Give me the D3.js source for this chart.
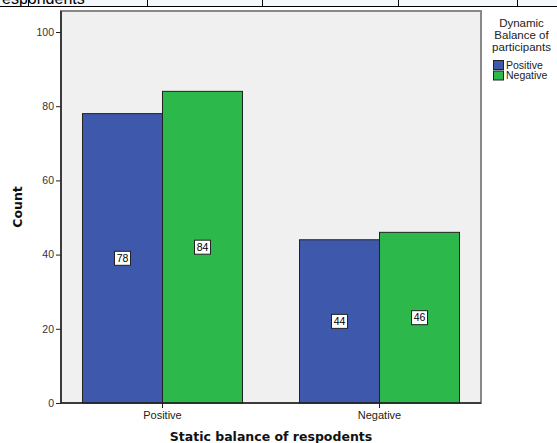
<!DOCTYPE html>
<html><head><meta charset="utf-8">
<script src="https://cdn.jsdelivr.net/npm/d3@7"></script>
<style>body{margin:0;background:#fff}svg{display:block}</style>
</head><body><svg id="c" width="557" height="443"></svg>
<script>
const categories = ["Positive", "Negative"];
const seriesNames = ["Positive", "Negative"];
const positiveCounts = [78, 44];
const negativeCounts = [84, 46];
const yTicks = [0, 20, 40, 60, 80, 100];
const colors = ["#3E58AC", "#2DB84B"];

const svg = d3.select("#c");
const m = {l: 61, r: 481, t: 11, b: 403};
const FONT = "Arial, 'Liberation Sans', sans-serif";
const BOLD = "'DejaVu Sans', Verdana, sans-serif";

// cut-off table row at top
svg.append("rect").attr("x",0).attr("y",0).attr("width",557).attr("height",6).attr("fill","#f4f8fc");
svg.append("text").attr("x",2).attr("y",4).style("font-family",FONT).attr("font-size",16).attr("fill","#000").text("espondents");
svg.append("line").attr("x1",0).attr("x2",557).attr("y1",6.5).attr("y2",6.5).attr("stroke","#000").attr("stroke-width",1);
[28,147,262,398,517].forEach(x=>svg.append("line").attr("x1",x+0.5).attr("x2",x+0.5).attr("y1",0).attr("y2",6).attr("stroke","#000"));

const x0 = d3.scaleBand().domain(categories).range([m.l, m.r]).paddingInner(0.2627).paddingOuter(0.099);
const x1 = d3.scaleBand().domain(seriesNames).range([0, x0.bandwidth()]);
const y = d3.scaleLinear().domain([0, 100]).range([m.b, 32]);

svg.append("rect").attr("x",m.l).attr("y",m.t).attr("width",m.r-m.l).attr("height",m.b-m.t)
  .attr("fill","#F0F0F0").attr("stroke","#888").attr("stroke-width",2);

const data = categories.map((c,i)=>({cat:c, vals:[positiveCounts[i], negativeCounts[i]]}));
const g = svg.append("g");
data.forEach(d=>{
  d.vals.forEach((v,j)=>{
    const bx = x0(d.cat)+x1(seriesNames[j]);
    g.append("rect").attr("x",bx).attr("y",y(v)).attr("width",x1.bandwidth()).attr("height",y(0)-y(v))
      .attr("fill",colors[j]).attr("stroke","#222").attr("stroke-width",1);
  });
});
data.forEach(d=>{
  d.vals.forEach((v,j)=>{
    const cx = x0(d.cat)+x1(seriesNames[j])+x1.bandwidth()/2;
    const cy = (y(v)+y(0))/2;
    g.append("rect").attr("x",cx-8).attr("y",cy-7).attr("width",16).attr("height",14)
      .attr("fill","#fff").attr("stroke","#222").attr("stroke-width",1);
    g.append("text").attr("x",cx).attr("y",cy+3.5).attr("text-anchor","middle").style("font-family",FONT).attr("font-size",10.5).attr("fill","#000").text(v);
  });
});

// axes
const ya = svg.append("g").attr("transform",`translate(${m.l},0)`)
  .call(d3.axisLeft(y).tickValues(yTicks).tickSize(5).tickPadding(2));
ya.select(".domain").remove();
ya.selectAll("line").attr("stroke","#222");
ya.selectAll("text").style("font-family",FONT).style("font-size","10.5px").attr("fill","#333");
svg.append("line").attr("x1",m.l).attr("x2",m.l).attr("y1",m.t).attr("y2",m.b).attr("stroke","#222").attr("stroke-width",1.5);

const xa = svg.append("g").attr("transform",`translate(0,${m.b})`)
  .call(d3.axisBottom(x0).tickSize(5).tickPadding(3));
xa.select(".domain").remove();
xa.selectAll("line").attr("stroke","#222");
xa.selectAll("text").style("font-family",FONT).style("font-size","11px").attr("fill","#222");
svg.append("line").attr("x1",m.l).attr("x2",m.r).attr("y1",m.b).attr("y2",m.b).attr("stroke","#222").attr("stroke-width",1.5);

svg.append("text").attr("transform","translate(22,207) rotate(-90)").attr("text-anchor","middle")
  .style("font-family",BOLD).attr("font-size",12.5).attr("font-weight","bold").attr("fill","#111").text("Count");
svg.append("text").attr("x",(m.l+m.r)/2).attr("y",441).attr("text-anchor","middle")
  .style("font-family",BOLD).attr("font-size",12.5).attr("font-weight","bold").attr("fill","#111").text("Static balance of respodents");

// legend
const lg = svg.append("g");
["Dynamic","Balance of","participants"].forEach((t,i)=>
  lg.append("text").attr("x",521.5).attr("y",27+i*12).attr("text-anchor","middle").style("font-family",FONT).attr("font-size",11.5).attr("fill","#222").text(t));
seriesNames.forEach((s,i)=>{
  lg.append("rect").attr("x",493.5).attr("y",60.5+i*10.5).attr("width",10).attr("height",9).attr("fill",colors[i]).attr("stroke","#222");
  lg.append("text").attr("x",506).attr("y",68.5+i*10.5).style("font-family",FONT).attr("font-size",10.5).attr("fill","#222").text(s);
});
</script></body></html>
